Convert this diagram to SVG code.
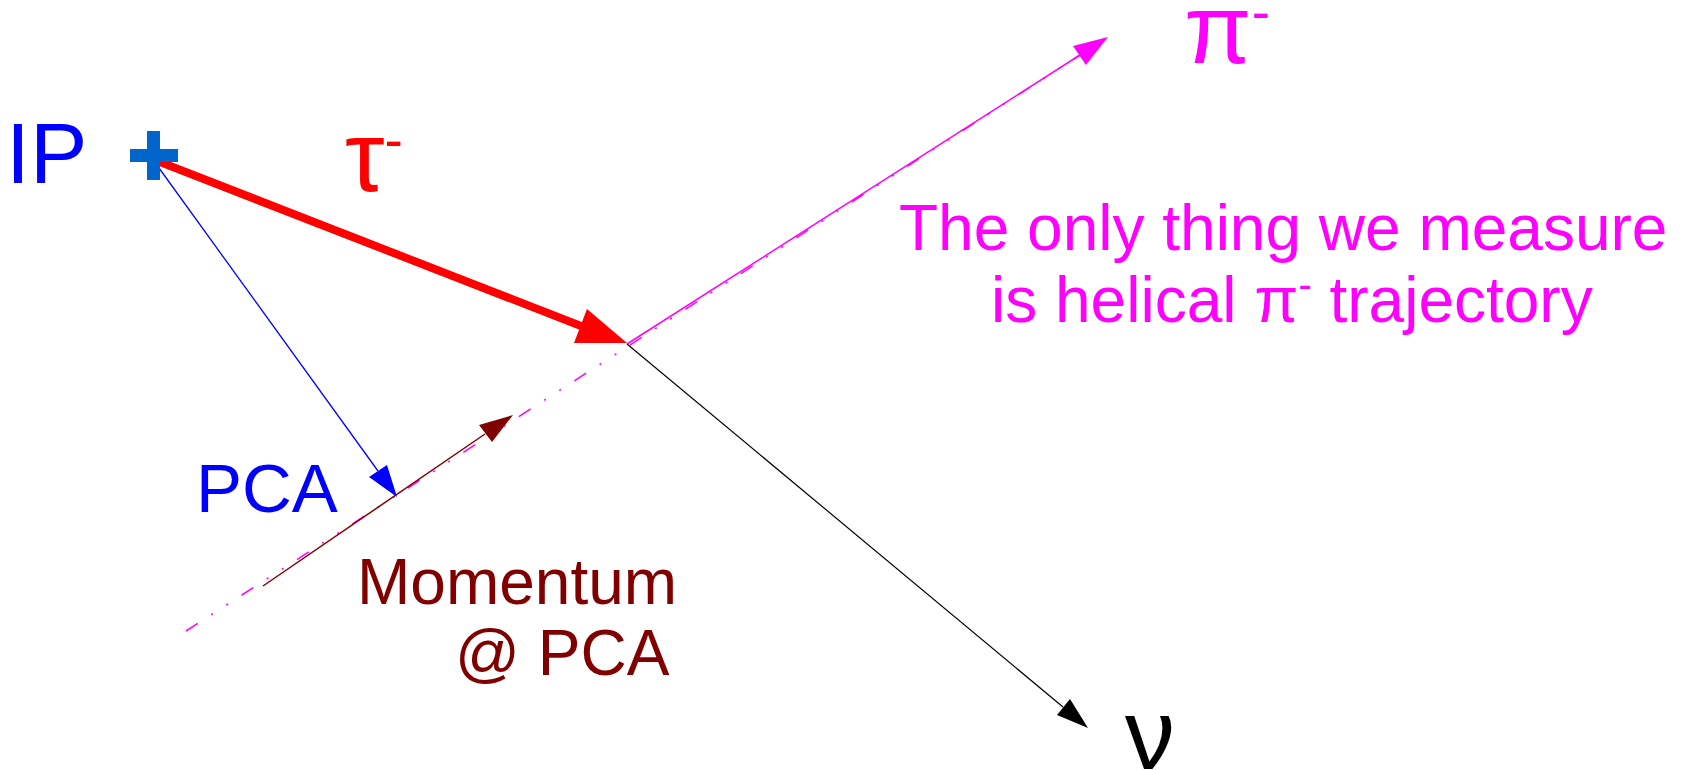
<svg xmlns="http://www.w3.org/2000/svg" width="1686" height="770" viewBox="0 0 1686 770">
  <style>
    text { font-family: "Liberation Sans", Arial, sans-serif; }
    .blue { fill: #0000ff; }
    .red { fill: #ff0000; }
    .mag { fill: #ff00ff; }
    .brown { fill: #800000; }
    .blk { fill: #000000; }
  </style>
  <rect width="1686" height="770" fill="#ffffff"/>
  <g id="connectors">
    <line x1="186" y1="631" x2="1080" y2="55" stroke="#ff00ff" stroke-width="1.5" stroke-dasharray="14 16 2 16 2 16"/>
    <line x1="627" y1="344" x2="1080" y2="55" stroke="#ff00ff" stroke-width="1.5"/>
    <polygon points="1108,37 1073,46 1086,65" fill="#ff00ff"/>
    <line x1="160" y1="162" x2="581" y2="326" stroke="#ff0000" stroke-width="8"/>
    <polygon points="627,343 587,309 574,343" fill="#ff0000"/>
    <line x1="159" y1="168" x2="378" y2="471" stroke="#0000ff" stroke-width="1.3"/>
    <polygon points="397,497 369,477 387,465" fill="#0000ff"/>
    <line x1="263" y1="586" x2="485" y2="434" stroke="#800000" stroke-width="1.5"/>
    <polygon points="513,415 479,425 492,442" fill="#800000"/>
    <line x1="627" y1="344" x2="1063" y2="707" stroke="#000000" stroke-width="1.2"/>
    <polygon points="1088,728 1057,715 1070,699" fill="#000000"/>
  </g>
  <g id="ip">
    <text class="blue" x="6" y="183" font-size="86">IP</text>
    <rect x="130" y="149" width="48" height="13" fill="#0066cc"/>
    <rect x="147" y="131" width="13" height="49" fill="#0066cc"/>
  </g>
  <g id="tau">
    <text class="red" x="345" y="191" font-size="100">τ<tspan font-size="55" dy="-32">-</tspan></text>
  </g>
  <g id="pca">
    <text class="blue" x="196" y="512" font-size="69">PCA</text>
  </g>
  <g id="momentum">
    <text class="brown" x="357" y="604" font-size="64">Momentum</text>
    <text class="brown" x="455" y="675" font-size="64">@ PCA</text>
  </g>
  <g id="pi">
    <text class="mag" x="1184" y="63" font-size="98">π<tspan font-size="55" dy="-32">-</tspan></text>
  </g>
  <g id="nu">
    <text class="blk" x="1125" y="769" font-size="100">ν</text>
  </g>
  <g id="note">
    <text class="mag" x="899" y="250" font-size="64">The only thing we measure</text>
    <text class="mag" x="991" y="322" font-size="64">is helical π<tspan font-size="40" dy="-24">-</tspan><tspan dy="24"> trajectory</tspan></text>
  </g>
</svg>
